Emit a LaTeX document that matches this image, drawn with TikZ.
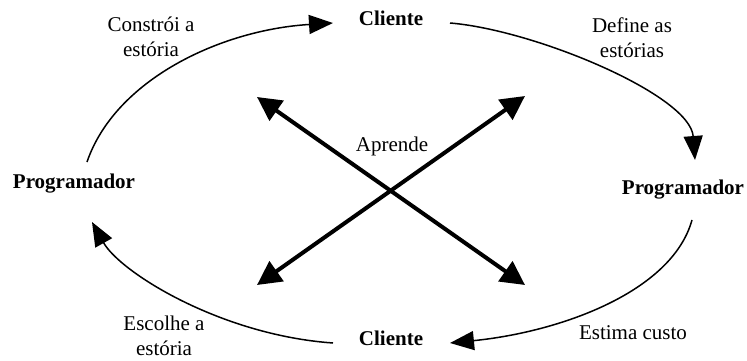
\documentclass[tikz,border=0pt]{standalone}
\usepackage{fontspec}
\setmainfont{Liberation Serif}
\usetikzlibrary{arrows.meta}
\begin{document}
\begin{tikzpicture}[x=1pt,y=-1pt,
  lbl/.style={font=\fontsize{21}{25}\selectfont, align=center, inner sep=0pt},
  actor/.style={font=\fontsize{21}{25}\selectfont\bfseries, inner sep=0pt},
  flow/.style={line width=1.5pt, -{Triangle[length=24pt,width=19pt]}},
  learn/.style={line width=4pt, {Triangle[length=24pt,width=24pt]}-{Triangle[length=24pt,width=24pt]}}]
\useasboundingbox (0,0) rectangle (747,361);
\node[actor] (clt) at (391,18) {Cliente};
\node[actor] (clb) at (391,338) {Cliente};
\node[actor] (pl) at (74,184) {Programador};
\node[actor] (pr) at (683,190) {Programador};
\node[lbl] (l1) at (151,37) {Constrói a\\estória};
\node[lbl] (l2) at (632,38) {Define as\\estórias};
\node[lbl] (l3) at (164,336) {Escolhe a\\estória};
\node[lbl] (l4) at (633,333) {Estima custo};
\node[lbl] (ap) at (392,146) {Aprende};
% arc end points next to the actor nodes
\coordinate (a1s) at (87,162);
\coordinate (a1e) at (333,23);
\coordinate (a2s) at (450,23);
\coordinate (a2e) at (695,160);
\coordinate (a3s) at (692,220);
\coordinate (a3e) at (450,343);
\coordinate (a4s) at (333,343);
\coordinate (a4e) at (92,222);
\draw[flow] (a1s) .. controls (115,80) and (220,30) .. (a1e);
\draw[flow] (a2s) .. controls (535,30) and (690,95) .. (a2e);
\draw[flow] (a3s) .. controls (672,292) and (560,332) .. (a3e);
\draw[flow] (a4s) .. controls (220,335) and (120,272) .. (a4e);
% learning cross
\coordinate (xa) at (257,97);
\coordinate (xb) at (525,285);
\coordinate (xc) at (257,285);
\coordinate (xd) at (525,96);
\draw[learn] (xa) -- (xb);
\draw[learn] (xc) -- (xd);
\end{tikzpicture}
\end{document}
